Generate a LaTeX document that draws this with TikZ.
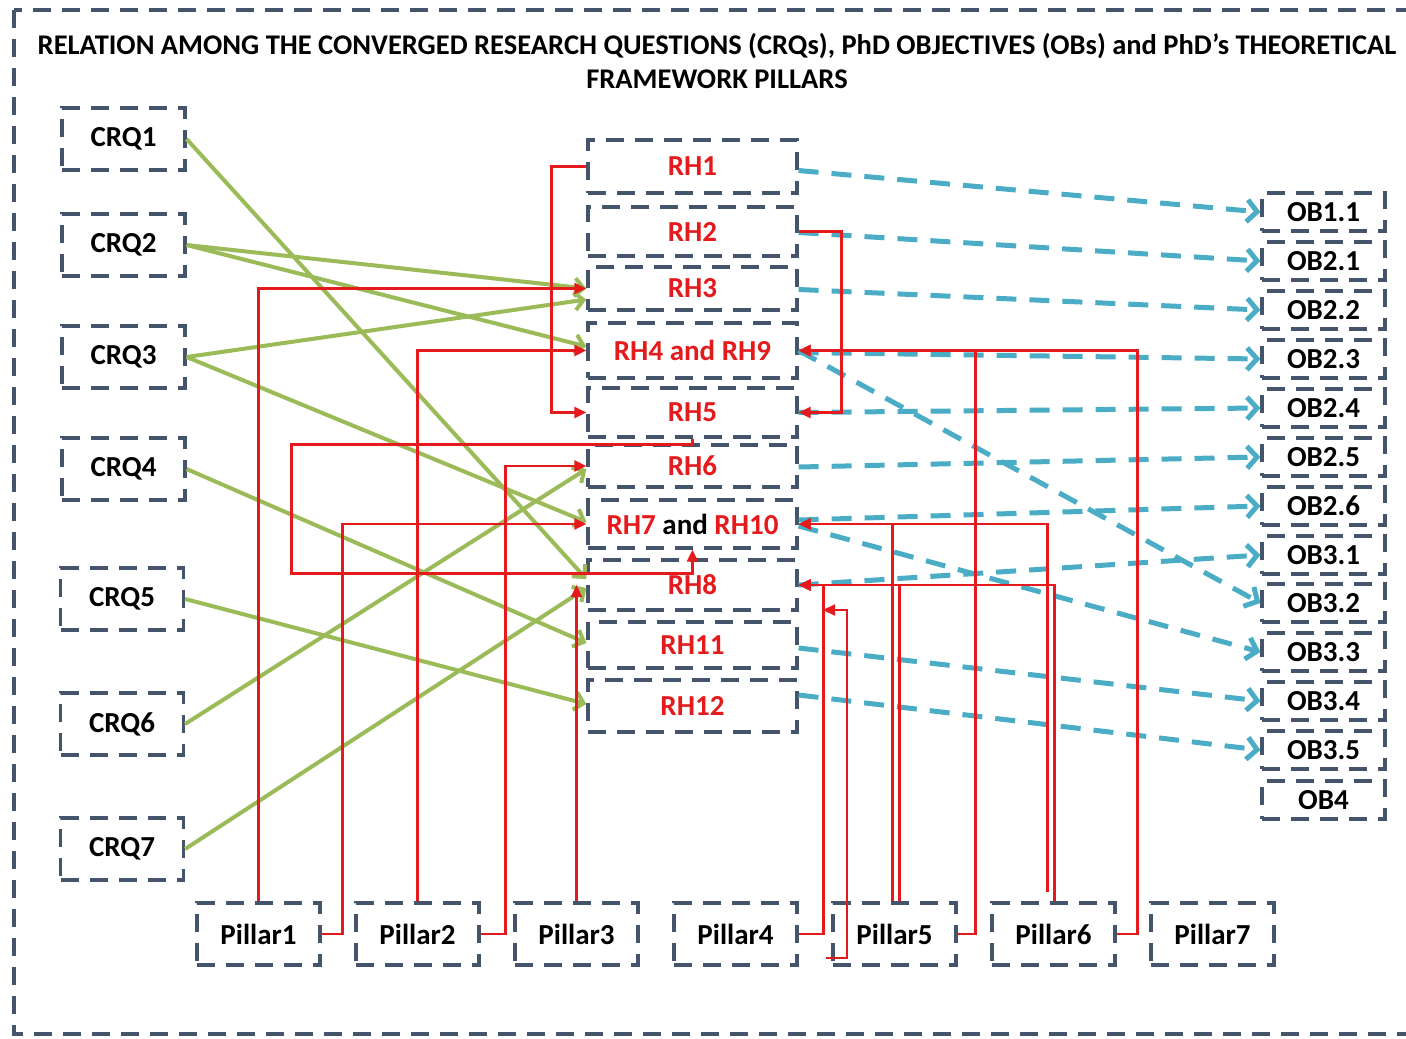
\documentclass[tikz,border=0pt]{standalone}
\usepackage{fontspec}
\setmainfont{Carlito}
\usetikzlibrary{arrows.meta,calc}
\definecolor{frameblue}{RGB}{68,84,106}
\definecolor{crqgreen}{RGB}{155,187,89}
\definecolor{obteal}{RGB}{75,172,198}
\definecolor{rhred}{RGB}{228,26,28}

\begin{document}
\begin{tikzpicture}[x=1pt,y=-1pt,
  box/.style={draw=frameblue, line width=3.2pt, dash pattern=on 18pt off 11pt,
    inner sep=0pt, font=\bfseries\fontsize{29}{32}\selectfont},
  crq/.style={box, minimum width=123pt, minimum height=62pt},
  rh/.style={box, minimum width=209pt, text=rhred},
  ob/.style={box, minimum width=123pt, minimum height=38pt},
  pillar/.style={box, minimum width=123pt, minimum height=62pt},
  greenarrow/.style={draw=crqgreen, line width=4pt,
    -{Straight Barb[length=9pt,width=18pt]}},
  tealarrow/.style={draw=obteal, line width=5pt, dash pattern=on 20pt off 13pt,
    -{Straight Barb[length=10pt,width=22pt]}},
  redline/.style={draw=rhred, line width=2.3pt},
  redarrow/.style={redline, -{Triangle[length=12pt,width=11pt]}},
]
\useasboundingbox (0,0) rectangle (1406,1039);

% outer frame
\draw[frameblue, line width=3.2pt, dash pattern=on 18pt off 11pt] (14,10) rectangle (1430,1034);

% title
\node[align=center, font=\bfseries\fontsize{28.5}{34}\selectfont] (title) at (717,61)
  {RELATION AMONG THE CONVERGED RESEARCH QUESTIONS (CRQs), PhD OBJECTIVES (OBs) and PhD’s THEORETICAL\\FRAMEWORK PILLARS};

% converged research questions
\node[crq] (crq1) at (123.5,139) {CRQ1};
\node[crq] (crq2) at (123.5,245) {CRQ2};
\node[crq] (crq3) at (123.5,357) {CRQ3};
\node[crq] (crq4) at (123.5,469) {CRQ4};
\node[crq] (crq5) at (122,599) {CRQ5};
\node[crq] (crq6) at (122,724) {CRQ6};
\node[crq] (crq7) at (122,849) {CRQ7};

% research hypotheses
\node[rh, minimum height=53pt] (rh1) at (692.5,166.5) {RH1};
\node[rh, minimum height=49pt] (rh2) at (692.5,231.5) {RH2};
\node[rh, minimum height=43pt] (rh3) at (692.5,288.5) {RH3};
\node[rh, minimum height=55pt] (rh4) at (692.5,350.5) {RH4 and RH9};
\node[rh, minimum height=49pt] (rh5) at (692.5,412.5) {RH5};
\node[rh, minimum height=42pt] (rh6) at (692.5,466) {RH6};
\node[rh, minimum height=48pt] (rh7) at (692.5,524) {RH7 \textcolor{black}{and} RH10};
\node[rh, minimum height=50pt] (rh8) at (692.5,585) {RH8};
\node[rh, minimum height=46pt] (rh11) at (692.5,645) {RH11};
\node[rh, minimum height=52pt] (rh12) at (692.5,706) {RH12};

% objectives
\node[ob] (ob11) at (1323.5,212) {OB1.1};
\node[ob] (ob21) at (1323.5,261) {OB2.1};
\node[ob] (ob22) at (1323.5,310) {OB2.2};
\node[ob] (ob23) at (1323.5,359) {OB2.3};
\node[ob] (ob24) at (1323.5,408) {OB2.4};
\node[ob] (ob25) at (1323.5,457) {OB2.5};
\node[ob] (ob26) at (1323.5,506) {OB2.6};
\node[ob] (ob31) at (1323.5,555) {OB3.1};
\node[ob] (ob32) at (1323.5,603) {OB3.2};
\node[ob] (ob33) at (1323.5,652) {OB3.3};
\node[ob] (ob34) at (1323.5,701) {OB3.4};
\node[ob] (ob35) at (1323.5,750) {OB3.5};
\node[ob] (ob4)  at (1323.5,800) {OB4};

% theoretical framework pillars
\node[pillar] (p1) at (258.5,934) {Pillar1};
\node[pillar] (p2) at (417.5,934) {Pillar2};
\node[pillar] (p3) at (576.5,934) {Pillar3};
\node[pillar] (p4) at (735.5,934) {Pillar4};
\node[pillar] (p5) at (894.5,934) {Pillar5};
\node[pillar] (p6) at (1053.5,934) {Pillar6};
\node[pillar] (p7) at (1212.5,934) {Pillar7};

% CRQ -> RH
\draw[greenarrow] (crq1.east) -- ([yshift=6pt]rh8.west);
\draw[greenarrow] (crq2.east) -- (rh3.west);
\draw[greenarrow] (crq2.east) -- ([yshift=4pt]rh4.west);
\draw[greenarrow] (crq3.east) -- ([yshift=-11pt]rh3.west);
\draw[greenarrow] (crq3.east) -- ([yshift=2pt]rh7.west);
\draw[greenarrow] (crq4.east) -- ([yshift=2pt]rh11.west);
\draw[greenarrow] (crq5.east) -- ([yshift=2pt]rh12.west);
\draw[greenarrow] (crq6.east) -- ([yshift=-3pt]rh6.west);
\draw[greenarrow] (crq7.east) -- ([yshift=-3pt]rh8.west);

% RH -> OB
\draw[tealarrow] ([yshift=-4pt]rh1.east) -- (ob11.west);
\draw[tealarrow] ([yshift=-1pt]rh2.east) -- (ob21.west);
\draw[tealarrow] ([yshift=-1pt]rh3.east) -- (ob22.west);
\draw[tealarrow] ([yshift=-2pt]rh4.east) -- (ob23.west);
\draw[tealarrow] (rh4.east) -- (ob32.west);
\draw[tealarrow] (rh5.east) -- (ob24.west);
\draw[tealarrow] ([yshift=-1pt]rh6.east) -- (ob25.west);
\draw[tealarrow] ([yshift=4pt]rh7.east) -- (ob26.west);
\draw[tealarrow] ([yshift=-2pt]rh7.east) -- (ob33.west);
\draw[tealarrow] (rh8.east) -- (ob31.west);
\draw[tealarrow] ([yshift=-3pt]rh11.east) -- (ob34.west);
\draw[tealarrow] ([yshift=11pt]rh12.east) -- (ob35.west);

% links among hypotheses and pillars
\draw[redarrow] (rh1.west) -- ++(-35,0) |- (rh5.west);
\draw[redarrow] (rh2.east) -- ++(43,0) |- (rh5.east);
\draw[redarrow] (rh5.south) -- ++(0,6) -- ++(-401,0) -- ++(0,129) -- ++(401,0) -- (rh7.south);
\draw[redarrow] (p1.north) |- (rh3.west);
\draw[redarrow] (p2.north) |- (rh4.west);
\draw[redarrow] (p3.north) -- (p3.north |- rh8.west);
\draw[redarrow] (p1.east) -- ++(21,0) |- (rh7.west);
\draw[redarrow] (p2.east) -- ++(25,0) |- (rh6.west);
\draw[redarrow] (p4.east) -- ++(25,0) |- (rh8.east);
\coordinate (p5foot) at (826,958);
\coordinate (rh8tap) at (823,610);
\draw[redarrow] (p5foot) -- ++(21,0) |- (rh8tap);
\draw[redarrow] ([xshift=-2pt]p5.north) |- (rh7.east);
\draw[redarrow] ([xshift=5pt]p5.north) |- (rh8.east);
\draw[redarrow] ([xshift=-6pt,yshift=9pt]p6.north) |- (rh7.east);
\draw[redarrow] ([xshift=1pt]p6.north) |- (rh8.east);
\draw[redarrow] (p5.east) -- ++(18,0) |- (rh4.east);
\draw[redarrow] (p6.east) -- ++(21,0) |- (rh4.east);

\end{tikzpicture}
\end{document}
